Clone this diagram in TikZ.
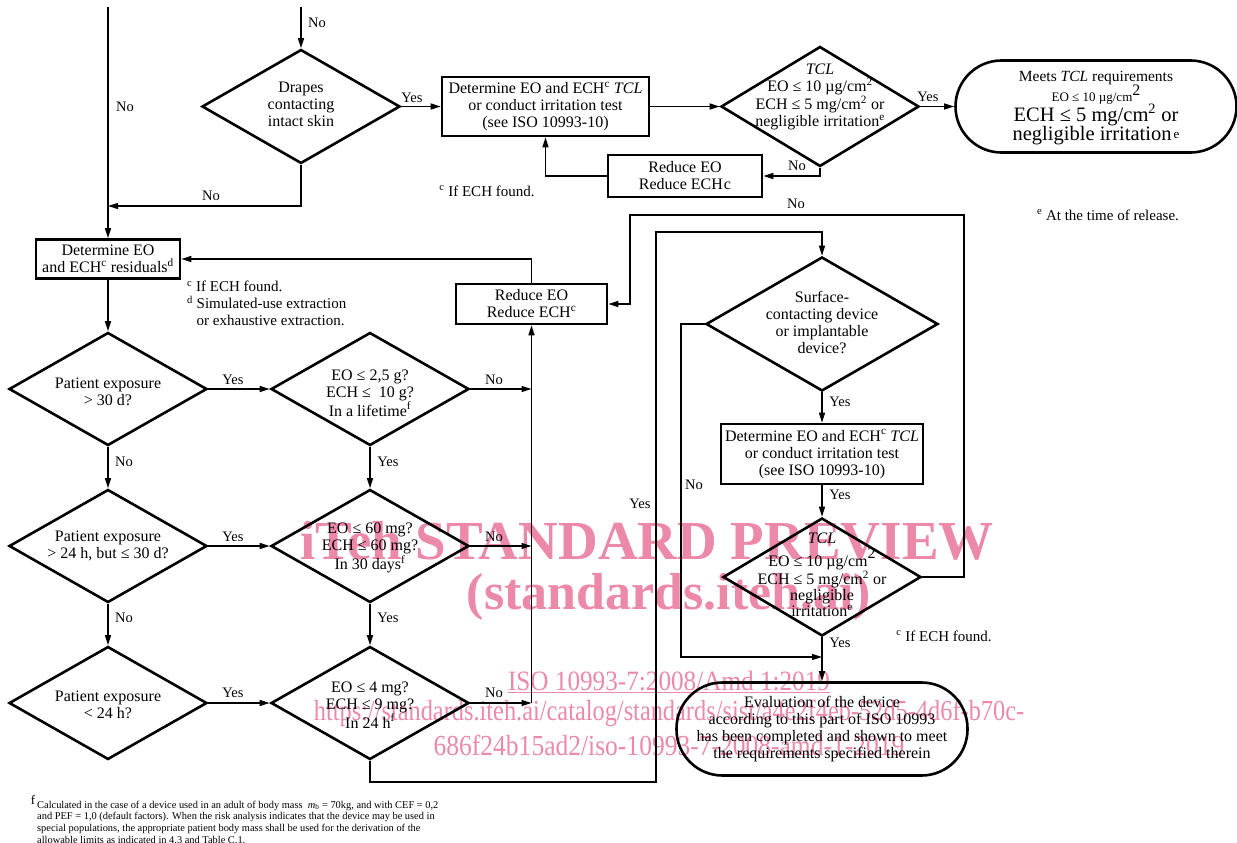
\documentclass[tikz,border=0pt]{standalone}
\usepackage{fontspec}
\usepackage{graphicx}
\setmainfont{Liberation Serif}
\usetikzlibrary{shapes.geometric,arrows.meta}

\definecolor{wmpink}{RGB}{236,136,168}

\begin{document}
\begin{tikzpicture}[x=1pt, y=-1pt,
  font=\fontsize{16}{17}\selectfont,
  box/.style 2 args={draw, line width=2.6pt, minimum width=#1, minimum height=#2, inner sep=1pt, align=center},
  dia/.style 2 args={diamond, draw, line width=2.6pt, minimum width=#1, minimum height=#2, inner sep=0pt},
  term/.style 2 args={draw, line width=2.6pt, rounded corners=46pt, minimum width=#1, minimum height=#2, inner sep=1pt, align=center},
  dtext/.style={align=center, inner sep=0pt},
  conn/.style={line width=1.4pt},
  arr/.style={conn, -{Triangle[length=10pt, width=6pt]}},
  lab/.style={font=\fontsize{14.5}{15}\selectfont, inner sep=0pt},
  note/.style={font=\fontsize{15}{17}\selectfont, align=left, inner sep=0pt},
  wm/.style={text=wmpink, inner sep=0pt}]
\useasboundingbox (0,0) rectangle (1237,843);

% Watermark (lies under the chart)
\node[wm, font=\bfseries\fontsize{55}{55}\selectfont] (wm1) at (647,541) {iTeh STANDARD PREVIEW};
\node[wm, font=\bfseries\fontsize{52}{52}\selectfont] (wm2) at (669,597) {(standards.iteh.ai)};
\node[wm, font=\fontsize{28}{28}\selectfont] (wm3) at (669,682) {\scalebox{0.9}[1]{\underline{ISO 10993-7:2008/Amd 1:2019}}};
\node[wm, font=\fontsize{29}{29}\selectfont] (wm4) at (669,713) {\scalebox{0.84}[1]{https://standards.iteh.ai/catalog/standards/sist/a4e2f4eb-52d5-4d6f-b70c-}};
\node[wm, font=\fontsize{29}{29}\selectfont] (wm5) at (669,745) {\scalebox{0.88}[1]{686f24b15ad2/iso-10993-7-2008-amd-1-2019}};

% Top row
\coordinate (topL) at (108,7);
\coordinate (topM) at (301,7);
\coordinate (joinL) at (108,206);
\node[dia={198}{114}] (drapes) at (301,106.5) {};
\node[dtext] (drapes-t) at (301,104) {Drapes\\contacting\\intact skin};
\node[box={207}{59}] (detTCL1) at (545.5,106.5) {Determine EO and ECH\textsuperscript{c} \textit{TCL}\\or conduct irritation test\\(see ISO 10993-10)};
\node[dia={198}{120}] (tcl1) at (820,106.5) {};
\node[dtext] (tcl1-t) at (820,97) {\textit{TCL}\\EO ≤ 10 µg/cm\textsuperscript{2}\\ECH ≤ 5 mg/cm\textsuperscript{2} or\\negligible irritation\textsuperscript{e}};
\node[term={281}{92}] (meets) at (1096,106.5) {};
\node[dtext] (meets-t) at (1096,108) {{\fontsize{15.5}{16}\selectfont Meets \textit{TCL} requirements}\\[-1pt]
  {\fontsize{13}{14}\selectfont EO ≤ 10 µg/cm\raisebox{6pt}{\fontsize{16}{16}\selectfont 2}}\\[-1pt]
  {\fontsize{20.5}{20}\selectfont ECH ≤ 5 mg/cm\textsuperscript{2} or}\\[-1pt]
  {\fontsize{20.5}{20}\selectfont negligible irritation\raisebox{2pt}{\fontsize{13}{13}\selectfont\,e}}};
\node[box={154}{42}] (reduce1) at (685,176) {Reduce EO\\Reduce ECH\kern1pt c};
\node[note] (fn-c1) at (487,191) {\textsuperscript{c} If ECH found.};
\node[note] (fn-e) at (1108,215) {\textsuperscript{e} At the time of release.};

\draw[arr] (topM) -- (drapes.north);
\node[lab] (no1) at (125,107) {No};
\node[lab] (no2) at (317,23) {No};
\draw[arr] (drapes.south) |- (joinL);
\node[lab] (no3) at (211,196) {No};
\draw[arr] (drapes.east) -- (detTCL1.west);
\node[lab] (yes1) at (412,98) {Yes};
\draw[arr] (detTCL1.east) -- (tcl1.west);
\draw[arr] (tcl1.east) -- (meets.west);
\node[lab] (yes2) at (928,97) {Yes};
\draw[arr] (tcl1.south) |- (reduce1.east);
\node[lab] (no4) at (797,166) {No};
\draw[arr] (reduce1.west) -| (detTCL1.south);

% Left column
\node[box={144}{39}] (detRes) at (108,259) {Determine EO\\and ECH\textsuperscript{c} residuals\textsuperscript{d}};
\node[note, anchor=north west] (fn-cd) at (187,281) {\textsuperscript{c} If ECH found.\\\textsuperscript{d} Simulated-use extraction\\\phantom{\textsuperscript{d}} or exhaustive extraction.};
\node[box={151}{40}] (reduce2) at (531.5,304) {Reduce EO\\Reduce ECH\textsuperscript{c}};
\draw[arr] (topL) -- (detRes.north);

\node[dia={198}{113}] (exp30) at (108,389) {};
\node[dtext] (exp30-t) at (108,392) {Patient exposure\\> 30 d?};
\node[dia={198}{113}] (life) at (370,389) {};
\node[dtext] (life-t) at (370,393) {EO ≤ 2,5 g?\\ECH ≤~ 10 g?\\In a lifetime\textsuperscript{f}};
\node[dia={198}{113}] (exp24) at (108,546) {};
\node[dtext] (exp24-t) at (108,546) {Patient exposure\\> 24 h, but ≤ 30 d?};
\node[dia={198}{113}] (days30) at (370,546) {};
\node[dtext] (days30-t) at (370,548) {EO ≤ 60 mg?\\ECH ≤ 60 mg?\\In 30 days\textsuperscript{f}};
\node[dia={198}{113}] (expless) at (108,703) {};
\node[dtext] (expless-t) at (108,705) {Patient exposure\\< 24 h?};
\node[dia={198}{113}] (h24) at (370,703) {};
\node[dtext] (h24-t) at (370,705) {EO ≤ 4 mg?\\ECH ≤ 9 mg?\\In 24 h\textsuperscript{f}};

\draw[arr] (detRes.south) -- (exp30.north);
\draw[arr] (reduce2.north) |- (detRes.east);
\draw[arr] (exp30.east) -- (life.west);
\node[lab] (yes3) at (233,380) {Yes};
\draw[arr] (life.east) -- (reduce2.south |- life.east);
\node[lab] (no5) at (494,380) {No};
\draw[arr] (exp30.south) -- (exp24.north);
\node[lab] (no6) at (124,462) {No};
\draw[arr] (life.south) -- (days30.north);
\node[lab] (yes4) at (388,462) {Yes};
\draw[arr] (exp24.east) -- (days30.west);
\node[lab] (yes5) at (233,537) {Yes};
\draw[arr] (days30.east) -- (reduce2.south |- days30.east);
\node[lab] (no7) at (494,537) {No};
\draw[arr] (exp24.south) -- (expless.north);
\node[lab] (no8) at (124,618) {No};
\draw[arr] (days30.south) -- (h24.north);
\node[lab] (yes6) at (388,618) {Yes};
\draw[arr] (expless.east) -- (h24.west);
\node[lab] (yes7) at (233,693) {Yes};
\draw[arr] (h24.east) -- (reduce2.south |- h24.east);
\node[lab] (no9) at (494,693) {No};
\draw[arr] (reduce2.south |- h24.east) -- (reduce2.south);

% Right column
\coordinate (yesB) at (656,782);
\coordinate (yesT) at (656,232);
\coordinate (noB) at (681,657);
\coordinate (loopR) at (964,215);
\coordinate (loopL) at (630,215);
\node[dia={232}{134}] (surf) at (822,324) {};
\node[dtext] (surf-t) at (822,322) {Surface-\\contacting device\\or implantable\\device?};
\node[box={202}{60}] (detTCL2) at (822,454) {Determine EO and ECH\textsuperscript{c} \textit{TCL}\\or conduct irritation test\\(see ISO 10993-10)};
\node[dia={198}{118}] (tcl2) at (822,577) {};
\node[dtext, font=\fontsize{16}{16}\selectfont] (tcl2-t) at (822,575) {\textit{TCL}\\[3pt]EO ≤ 10 µg/cm\raisebox{8pt}{2}\\ECH ≤ 5 mg/cm\textsuperscript{2} or\\negligible\\irritation\textsuperscript{e}};
\node[term={291}{93}] (eval) at (822,729) {Evaluation of the device\\according to this part of ISO 10993\\has been completed and shown to meet\\the requirements specified therein};
\node[note] (fn-c2) at (944,636) {\textsuperscript{c} If ECH found.};

\draw[arr] (h24.south) |- (yesB) -- (yesT) -| (surf.north);
\node[lab] (yes8) at (640,504) {Yes};
\draw[arr] (surf.west) -| (noB) -- (noB -| tcl2.south);
\node[lab] (no10) at (694,485) {No};
\draw[arr] (surf.south) -- (detTCL2.north);
\node[lab] (yes9) at (840,402) {Yes};
\draw[arr] (detTCL2.south) -- (tcl2.north);
\node[lab] (yes10) at (840,495) {Yes};
\draw[arr] (tcl2.east) -| (loopR) -- (loopL) |- (reduce2.east);
\node[lab] (no11) at (796,204) {No};
\draw[arr] (tcl2.south) -- (eval.north);
\node[lab] (yes11) at (840,643) {Yes};

% Footnote f
\node[anchor=north west, inner sep=0pt, align=left, font=\fontsize{10.4}{11.6}\selectfont] (fn-f) at (37,795) {\llap{\raisebox{4pt}{\fontsize{13}{13}\selectfont f}\hspace{2pt}}Calculated in the case of a device used in an adult of body mass~ \textit{m}\textsubscript{b} = 70kg, and with CEF = 0,2\\and PEF = 1,0 (default factors). When the risk analysis indicates that the device may be used in\\special populations, the appropriate patient body mass shall be used for the derivation of the\\allowable limits as indicated in 4.3 and Table C.1.};
\end{tikzpicture}
\end{document}
